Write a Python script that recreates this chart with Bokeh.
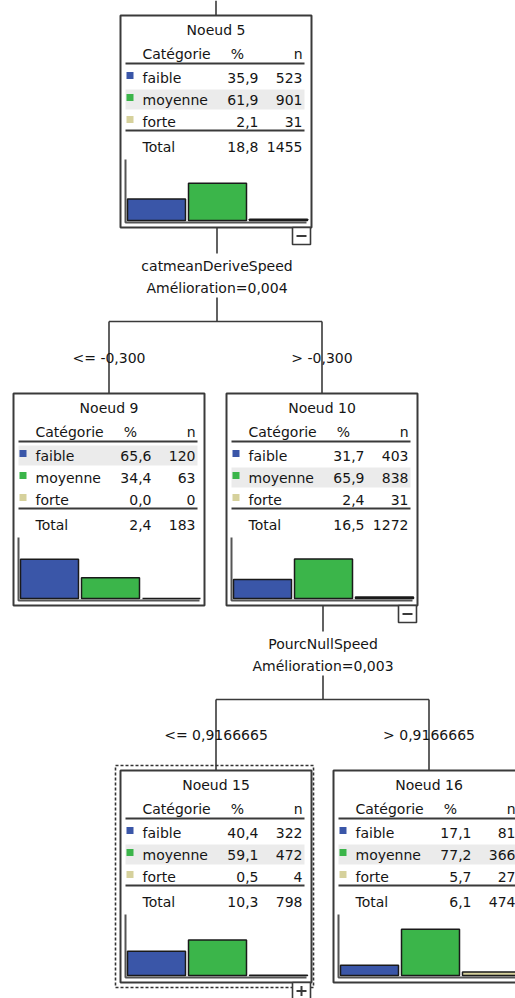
from bokeh.plotting import figure
from bokeh.models import Range1d, ColumnDataSource
from bokeh.core.properties import value
from bokeh.embed import file_html
from bokeh.resources import INLINE

# ---------------- data ----------------
node_ids = [5, 9, 10, 15, 16]
categories = ["faible", "moyenne", "forte"]
pct_faible = [35.9, 65.6, 31.7, 40.4, 17.1]
pct_moyenne = [61.9, 34.4, 65.9, 59.1, 77.2]
pct_forte = [2.1, 0.0, 2.4, 0.5, 5.7]
n_faible = [523, 120, 403, 322, 81]
n_moyenne = [901, 63, 838, 472, 366]
n_forte = [31, 0, 31, 4, 27]
total_pct = [18.8, 2.4, 16.5, 10.3, 6.1]
total_n = [1455, 183, 1272, 798, 474]
header = ["Catégorie", "%", "n"]
total_label = "Total"
split_vars = ["catmeanDeriveSpeed", "PourcNullSpeed"]
improvements = ["Amélioration=0,004", "Amélioration=0,003"]
split_left = ["<= -0,300", "<= 0,9166665"]
split_right = ["> -0,300", "> 0,9166665"]
split_parent = [0, 2]
split_children = [(1, 2), (3, 4)]
node_toggle = ["−", "", "−", "+", ""]
selected_node = 3

# ---------------- style / layout ----------------
cat_fill = ["#3a56a8", "#3bb54a", "#d6d19c"]
box_left = [120, 13, 226, 120, 333]
box_top = [15, 393, 393, 770, 770]
BW, BH = 191, 212
SCALE = 0.6
FONT = value("DejaVu Sans")
FS = "14px"
TXT = "#151515"
LINE = "#3a3a3a"

def fmt(v):
    return f"{v:.1f}".replace(".", ",")

pcts = [pct_faible, pct_moyenne, pct_forte]
ns = [n_faible, n_moyenne, n_forte]

p = figure(width=515, height=998, output_backend="svg", toolbar_location=None,
           x_range=Range1d(0, 515), y_range=Range1d(998, 0),
           min_border=0, outline_line_color=None, background_fill_color="white")
p.axis.visible = False
p.grid.visible = False

tl = dict(x=[], y=[], t=[])
tc = dict(x=[], y=[], t=[])
tr = dict(x=[], y=[], t=[])
seg = dict(x0=[], y0=[], x1=[], y1=[])
rules = dict(x0=[], y0=[], x1=[], y1=[])
hl = dict(l=[], r=[], t=[], b=[])
sq = dict(x=[], y=[], c=[])
bars = dict(l=[], r=[], t=[], b=[], c=[])
ax = dict(xs=[], ys=[])
tog = dict(l=[], r=[], t=[], b=[])

# tree connectors
cx0 = box_left[0] + BW / 2
seg["x0"].append(cx0); seg["y0"].append(0); seg["x1"].append(cx0); seg["y1"].append(box_top[0])
for s, par in enumerate(split_parent):
    pb = box_top[par] + BH
    pcx = box_left[par] + BW / 2 + 1
    ca, cb = split_children[s]
    xa = box_left[ca] + BW / 2
    xb = box_left[cb] + BW / 2
    hy = pb + 94
    seg["x0"] += [pcx, pcx, xa, xa, xb]
    seg["y0"] += [pb, pb + 70, hy, hy, hy]
    seg["x1"] += [pcx, pcx, xb, xa, xb]
    seg["y1"] += [pb + 26, hy, hy, box_top[ca], box_top[cb]]
    tc["x"] += [pcx, pcx]
    tc["y"] += [pb + 38, pb + 60]
    tc["t"] += [split_vars[s], improvements[s]]
    ly = (hy + box_top[ca]) / 2
    tc["x"] += [xa, xb]
    tc["y"] += [ly, ly]
    tc["t"] += [split_left[s], split_right[s]]

for i, nid in enumerate(node_ids):
    bx, by = box_left[i], box_top[i]
    cx = bx + BW / 2
    tc["x"].append(cx); tc["y"].append(by + 14); tc["t"].append(f"Noeud {nid}")
    tl["x"].append(bx + 22); tl["y"].append(by + 38); tl["t"].append(header[0])
    tc["x"].append(bx + 117); tc["y"].append(by + 38); tc["t"].append(header[1])
    tr["x"].append(bx + 182); tr["y"].append(by + 38); tr["t"].append(header[2])
    vals = [pcts[k][i] for k in range(3)]
    kmax = vals.index(max(vals))
    base = by + 205
    for k in range(3):
        ry = by + 62 + 22 * k
        if k == kmax:
            hl["l"].append(bx + 5); hl["r"].append(bx + 184)
            hl["t"].append(ry - 10); hl["b"].append(ry + 10)
        sq["x"].append(bx + 9.5); sq["y"].append(ry - 2); sq["c"].append(cat_fill[k])
        tl["x"].append(bx + 22); tl["y"].append(ry); tl["t"].append(categories[k])
        tr["x"].append(bx + 138); tr["y"].append(ry); tr["t"].append(fmt(pcts[k][i]))
        tr["x"].append(bx + 182); tr["y"].append(ry); tr["t"].append(str(ns[k][i]))
        bars["l"].append(bx + 7 + 61 * k); bars["r"].append(bx + 65 + 61 * k)
        bars["t"].append(base - pcts[k][i] * SCALE); bars["b"].append(base)
        bars["c"].append(cat_fill[k])
    tl["x"].append(bx + 22); tl["y"].append(by + 131); tl["t"].append(total_label)
    tr["x"].append(bx + 138); tr["y"].append(by + 131); tr["t"].append(fmt(total_pct[i]))
    tr["x"].append(bx + 182); tr["y"].append(by + 131); tr["t"].append(str(total_n[i]))
    rules["x0"] += [bx + 5, bx + 5]; rules["x1"] += [bx + 184, bx + 184]
    rules["y0"] += [by + 48, by + 115]; rules["y1"] += [by + 48, by + 115]
    ax["xs"].append([bx + 5, bx + 5, bx + 186])
    ax["ys"].append([base - 61, base + 2, base + 2])
    if node_toggle[i]:
        r = bx + BW
        tog["l"].append(r - 19); tog["r"].append(r - 1)
        tog["t"].append(by + BH); tog["b"].append(by + BH + 17)
        rules["x0"].append(r - 15); rules["x1"].append(r - 5)
        rules["y0"].append(by + BH + 8.5); rules["y1"].append(by + BH + 8.5)
        if node_toggle[i] == "+":
            rules["x0"].append(r - 10); rules["x1"].append(r - 10)
            rules["y0"].append(by + BH + 3.5); rules["y1"].append(by + BH + 13.5)

# draw
p.segment(x0="x0", y0="y0", x1="x1", y1="y1", source=ColumnDataSource(seg),
          line_color=LINE, line_width=1.6)
p.quad(left=[box_left[selected_node] - 5], right=[box_left[selected_node] + BW + 2],
       top=[box_top[selected_node] - 5], bottom=[box_top[selected_node] + BH + 5],
       fill_alpha=0, line_color="#333333", line_width=1.6, line_dash="3 2")
p.quad(left=box_left, right=[b + BW for b in box_left], top=box_top,
       bottom=[t + BH for t in box_top], fill_color="white", line_color=LINE, line_width=2)
p.quad(left="l", right="r", top="t", bottom="b", source=ColumnDataSource(tog),
       fill_color="white", line_color=LINE, line_width=1.6)
p.quad(left="l", right="r", top="t", bottom="b", source=ColumnDataSource(hl),
       fill_color="#ebebeb", line_color=None)
p.segment(x0="x0", y0="y0", x1="x1", y1="y1", source=ColumnDataSource(rules),
          line_color=LINE, line_width=2)
p.rect(x="x", y="y", width=7, height=7, fill_color="c", line_color=None,
       source=ColumnDataSource(sq))
p.multi_line(xs="xs", ys="ys", source=ColumnDataSource(ax), line_color="#555555", line_width=2)
p.quad(left="l", right="r", top="t", bottom="b", fill_color="c", line_color="#1a1a1a",
       line_width=1.5, source=ColumnDataSource(bars))

for d, al in ((tl, "left"), (tc, "center"), (tr, "right")):
    p.text(x="x", y="y", text="t", source=ColumnDataSource(d), text_align=al,
           text_baseline="middle", text_font=FONT, text_font_size=FS, text_color=TXT)

open("out.html", "w").write(file_html(p, INLINE))
